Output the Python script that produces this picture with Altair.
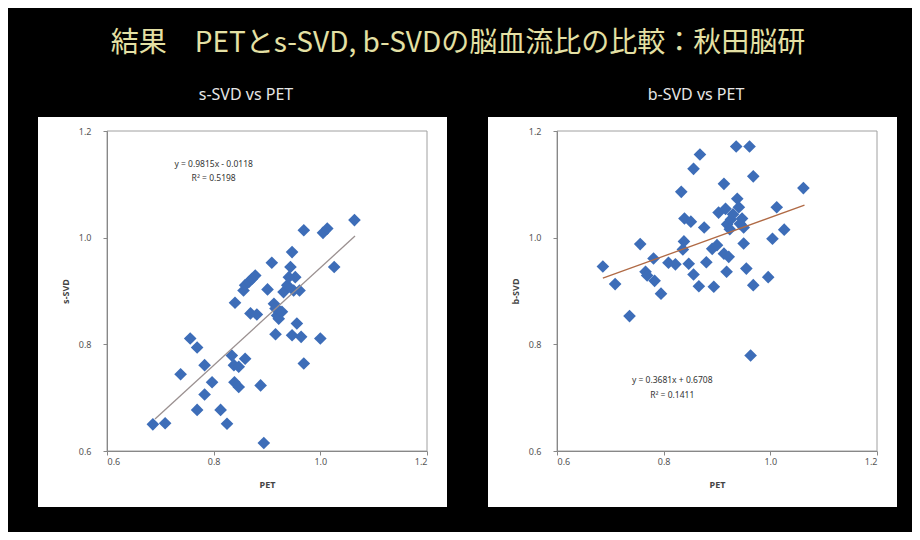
import altair as alt
import pandas as pd

# ---------------- data ----------------
pet_s = [0.686, 0.709, 0.738, 0.756, 0.769, 0.769, 0.783, 0.783, 0.797, 0.813,
         0.825, 0.834, 0.838, 0.840, 0.839, 0.847, 0.847, 0.856, 0.859, 0.859,
         0.866, 0.872, 0.878, 0.869, 0.881, 0.888, 0.894, 0.901, 0.909, 0.913,
         0.916, 0.919, 0.922, 0.922, 0.928, 0.916, 0.931, 0.938, 0.941, 0.944,
         0.947, 0.950, 0.953, 0.956, 0.947, 0.961, 0.964, 0.969, 0.969, 1.000,
         1.005, 1.013, 1.026, 1.064]
ssvd = [0.650, 0.652, 0.744, 0.811, 0.794, 0.677, 0.761, 0.706, 0.729, 0.677,
        0.651, 0.779, 0.761, 0.878, 0.729, 0.758, 0.720, 0.901, 0.773, 0.911,
        0.917, 0.923, 0.929, 0.858, 0.856, 0.723, 0.615, 0.903, 0.953, 0.876,
        0.867, 0.854, 0.864, 0.848, 0.861, 0.819, 0.898, 0.911, 0.926, 0.945,
        0.973, 0.901, 0.926, 0.839, 0.817, 0.901, 0.814, 1.014, 0.764, 0.811,
        1.009, 1.017, 0.945, 1.033]

pet_b = [0.686, 0.709, 0.736, 0.756, 0.766, 0.769, 0.781, 0.783, 0.795, 0.809,
         0.822, 0.833, 0.838, 0.836, 0.839, 0.851, 0.856, 0.847, 0.856, 0.866,
         0.868, 0.876, 0.880, 0.891, 0.894, 0.900, 0.903, 0.913, 0.913, 0.916,
         0.918, 0.919, 0.922, 0.924, 0.926, 0.930, 0.936, 0.938, 0.941, 0.943,
         0.947, 0.950, 0.950, 0.955, 0.961, 0.963, 0.968, 0.968, 0.996, 1.004,
         1.012, 1.026, 1.062]
bsvd = [0.946, 0.913, 0.853, 0.988, 0.936, 0.929, 0.961, 0.919, 0.895, 0.953,
        0.950, 1.086, 0.993, 0.978, 1.036, 1.030, 1.129, 0.951, 0.931, 0.909,
        1.156, 1.019, 0.954, 0.979, 0.908, 0.986, 1.047, 1.101, 0.970, 1.054,
        0.936, 1.025, 0.964, 1.016, 1.034, 1.044, 1.171, 1.073, 1.057, 1.026,
        1.036, 0.989, 1.019, 0.942, 1.171, 0.779, 1.115, 0.911, 0.926, 0.998,
        1.057, 1.015, 1.093]

# trend lines (endpoints as drawn)
trend_s_x = [0.690, 1.065]
trend_s_y = [0.660, 1.003]
trend_b_x = [0.686, 1.064]
trend_b_y = [0.924, 1.061]

eq_s = ["y = 0.9815x - 0.0118", "R² = 0.5198"]
eq_s_pos_x = [0.80, 0.80]
eq_s_pos_y = [1.139, 1.111]
eq_b = ["y = 0.3681x + 0.6708", "R² = 0.1411"]
eq_b_pos_x = [0.816, 0.816]
eq_b_pos_y = [0.7325, 0.7045]

main_title = "結果　PETとs-SVD, b-SVDの脳血流比の比較：秋田脳研"
sub_titles = ["s-SVD vs PET", "b-SVD vs PET"]
y_titles = ["s-SVD", "b-SVD"]
ticks = [0.6, 0.8, 1.0, 1.2]

BLUE = "#3d6db8"
W = 320
H = 320
one = alt.Data(values=[{}])

AX = dict(values=ticks, format=".1f", zindex=2, grid=False,
          domainColor="#888", tickColor="#888", tickSize=4,
          labelColor="#555", labelFontSize=9, labelFont="Noto Sans",
          titleColor="#444", titleFontSize=9, titleFont="Noto Sans",
          titleFontWeight="bold")


def panel(px, py, ytitle, tx, ty, tcolor, eqt, eqx, eqy, subtitle, bg_x, bg_x2, with_title):
    xs = alt.Scale(domain=[0.6, 1.2], nice=False, zero=False)
    ys = alt.Scale(domain=[0.6, 1.2], nice=False, zero=False)
    xax = alt.Axis(title="PET", labelPadding=2, titlePadding=14, **AX)
    yax = alt.Axis(title=ytitle, labelPadding=12, titlePadding=8, **AX)

    bg = alt.Chart(one).mark_rect(color="black").encode(
        x=alt.value(bg_x), x2=alt.value(bg_x2), y=alt.value(-123), y2=alt.value(401))
    box = alt.Chart(one).mark_rect(color="white").encode(
        x=alt.value(-69), x2=alt.value(340), y=alt.value(-14), y2=alt.value(376))
    frame = alt.Chart(one).mark_rect(
        filled=False, stroke="#a0a0a0", strokeWidth=1
    ).encode(x=alt.value(0), x2=alt.value(W), y=alt.value(0), y2=alt.value(H))

    pts = alt.Chart(pd.DataFrame({"x": px, "y": py})).mark_point(
        shape="diamond", filled=True, size=160, color=BLUE, opacity=1
    ).encode(x=alt.X("x:Q", scale=xs, axis=xax), y=alt.Y("y:Q", scale=ys, axis=yax))

    line = alt.Chart(pd.DataFrame({"x": tx, "y": ty})).mark_line(
        color=tcolor, strokeWidth=1.3
    ).encode(x=alt.X("x:Q", scale=xs, axis=xax), y=alt.Y("y:Q", scale=ys, axis=yax))

    eq = alt.Chart(pd.DataFrame({"x": eqx, "y": eqy, "t": eqt})).mark_text(
        fontSize=8.5, color="#333", font="Noto Sans"
    ).encode(x=alt.X("x:Q", scale=xs, axis=xax), y=alt.Y("y:Q", scale=ys, axis=yax),
             text="t:N")

    sub = alt.Chart(one).mark_text(
        text=subtitle, fontSize=16, color="#e6e6e6", font="Noto Sans"
    ).encode(x=alt.value(139), y=alt.value(-36))

    layers = [bg, box, frame, pts, line, eq, sub]
    if with_title:
        ttl = alt.Chart(one).mark_text(
            text=main_title, fontSize=28, color="#e4e0a4", font="Noto Sans CJK JP"
        ).encode(x=alt.value(351), y=alt.value(-87))
        layers.append(ttl)
    return alt.layer(*layers).properties(width=W, height=H)


left = panel(pet_s, ssvd, y_titles[0], trend_s_x, trend_s_y, "#9a9090",
             eq_s, eq_s_pos_x, eq_s_pos_y, sub_titles[0], -99, 0, True)
right = panel(pet_b, bsvd, y_titles[1], trend_b_x, trend_b_y, "#b06a45",
              eq_b, eq_b_pos_x, eq_b_pos_y, sub_titles[1], 340, 355, False)

chart = alt.hconcat(left, right, spacing=130, bounds="flush").properties(
    padding=0
).configure(background="black").configure_view(stroke=None)

chart.save("out.html", embed_options={"renderer": "svg", "actions": False})
